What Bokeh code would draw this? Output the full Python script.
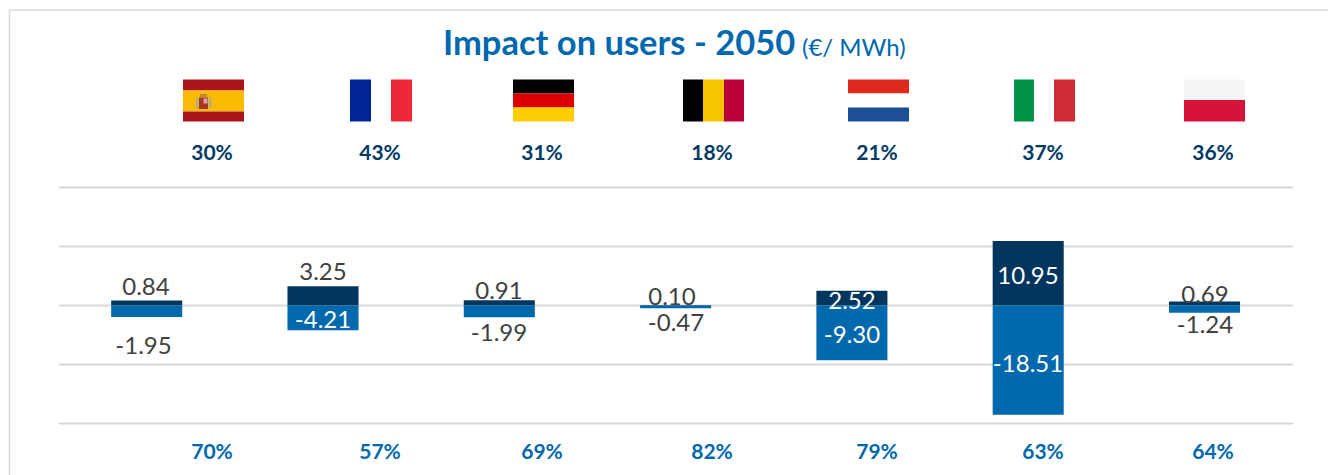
from bokeh.plotting import figure
from bokeh.models import Range1d
from bokeh.core.properties import value
from bokeh.embed import file_html
from bokeh.resources import INLINE

countries = ["Spain", "France", "Germany", "Belgium", "Netherlands", "Italy", "Poland"]
positive = [0.84, 3.25, 0.91, 0.10, 2.52, 10.95, 0.69]
negative = [-1.95, -4.21, -1.99, -0.47, -9.30, -18.51, -1.24]
top_pct = ["30%", "43%", "31%", "18%", "21%", "37%", "36%"]
bottom_pct = ["70%", "57%", "69%", "82%", "79%", "63%", "64%"]
grid_ticks = [-20, -10, 0, 10, 20]

FONT = "Lato"
DARK = "#03365F"
BLUE = "#0068AD"
GRID = "#D9D9D9"
TXT = "#404040"

# layout (page pixels)
pct_x = [212, 380, 542, 712, 877, 1043, 1213]
pos_lab_x = [146, 323, 499, 672, 852, 1028, 1205]
pos_lab_y = [286, 271, 290, 296, 300, 275, 294]
pos_lab_c = [TXT, TXT, TXT, TXT, "#FFFFFF", "#FFFFFF", TXT]
neg_lab_x = [143.5, 323, 499, 676, 852, 1028, 1205]
neg_lab_y = [345, 319, 332, 322, 334, 363, 324]
neg_lab_c = [TXT, "#FFFFFF", TXT, TXT, "#FFFFFF", "#FFFFFF", TXT]

# flags: (left, right, orientation, band edges, colours)
flags = [
    (183, 244, "h", [79, 90, 111, 121], ["#AA151B", "#FBBC00", "#AA151B"]),
    (350, 412, "v", [350, 371, 391, 412], ["#002395", "#FFFFFF", "#ED2939"]),
    (513, 574, "h", [79, 93, 107, 121], ["#000000", "#DD0000", "#FFCE00"]),
    (683, 744, "v", [683, 703, 724, 744], ["#000000", "#F7C600", "#BE003A"]),
    (848, 909, "h", [79, 93, 107, 121], ["#DE2A1D", "#FFFFFF", "#1D4F96"]),
    (1014, 1075, "v", [1014, 1034, 1054, 1075], ["#009246", "#FFFFFF", "#CE2B37"]),
    (1184, 1245, "h", [79, 99.5, 121], ["#F5F5F5", "#D6143A"]),
]
emblem = [
    (196, 198.5, 97, 108, "#B9A98A"), (209, 211.5, 97, 108, "#B9A98A"),
    (199, 208, 97, 108.5, "#A8381F"), (203.5, 207.5, 98, 103, "#CFA6B0"),
    (200, 207, 93.5, 97, "#C08A2B"),
]

W, H = 1328, 475
PX_ZERO, PX_UNIT = 305.0, 5.9
X0, DX = 146.2, 176.3

p = figure(
    width=W, height=H, output_backend="svg", toolbar_location=None, min_border=0,
    x_range=Range1d(-X0 / DX, (W - X0) / DX),
    y_range=Range1d((PX_ZERO - H) / PX_UNIT, PX_ZERO / PX_UNIT),
    outline_line_color=None, background_fill_color="white", border_fill_color="white",
)
p.extra_x_ranges = {"px": Range1d(0.5, W + 0.5)}
p.extra_y_ranges = {"px": Range1d(H, 0)}
p.xaxis.visible = False
p.yaxis.visible = False
p.grid.visible = False

PX = dict(x_range_name="px", y_range_name="px")

# frame
p.segment([9.5], [9.5], [W + 1], [9.5], line_color=GRID, line_width=1.5, **PX)
p.segment([9.5], [9.5], [9.5], [H], line_color=GRID, line_width=1.5, **PX)

# gridlines, on the value scale
p.segment(x0=[59] * len(grid_ticks), x1=[1293] * len(grid_ticks),
          y0=[PX_ZERO - t * PX_UNIT for t in grid_ticks],
          y1=[PX_ZERO - t * PX_UNIT for t in grid_ticks],
          line_color=GRID, line_width=2, **PX)

# bars
idx = list(range(len(countries)))
p.vbar(x=idx, width=0.403, bottom=0, top=positive, fill_color=DARK, line_color=None)
p.vbar(x=idx, width=0.403, bottom=0, top=negative, fill_color=BLUE, line_color=None)

# flags
for left, right, o, edges, cols in flags:
    if o == "h":
        p.quad(left=left, right=right, top=edges[:-1], bottom=edges[1:], fill_color=cols, line_color=None, **PX)
    else:
        p.quad(left=edges[:-1], right=edges[1:], top=79, bottom=121, fill_color=cols, line_color=None, **PX)
for l, r, t, b, c in emblem:
    p.quad(left=[l], right=[r], top=[t], bottom=[b], fill_color=c, line_color=None, **PX)

# title
p.text([443], [41], text=["Impact on users - 2050"], text_font=value(FONT), text_font_style="bold",
       text_font_size="34.5px", text_color="#0068AF", text_align="left", text_baseline="middle", **PX)
p.text([802], [46], text=["(€/ MWh)"], text_font=value(FONT), text_font_size="24px",
       text_color="#0068AF", text_align="left", text_baseline="middle", **PX)

# percentages
p.text(pct_x, [151] * 7, text=top_pct, text_font=value(FONT), text_font_style="bold", text_font_size="21px",
       text_color="#023A66", text_align="center", text_baseline="middle", **PX)
p.text(pct_x, [450] * 7, text=bottom_pct, text_font=value(FONT), text_font_style="bold", text_font_size="21px",
       text_color="#0068AD", text_align="center", text_baseline="middle", **PX)

# value labels
p.text(pos_lab_x, pos_lab_y, text=[f"{v:.2f}" for v in positive], text_font=value(FONT), text_font_size="24px",
       text_color=pos_lab_c, text_align="center", text_baseline="middle", **PX)
p.text(neg_lab_x, neg_lab_y, text=[f"{v:.2f}" for v in negative], text_font=value(FONT), text_font_size="24px",
       text_color=neg_lab_c, text_align="center", text_baseline="middle", **PX)

open("out.html", "w").write(file_html(p, INLINE))
